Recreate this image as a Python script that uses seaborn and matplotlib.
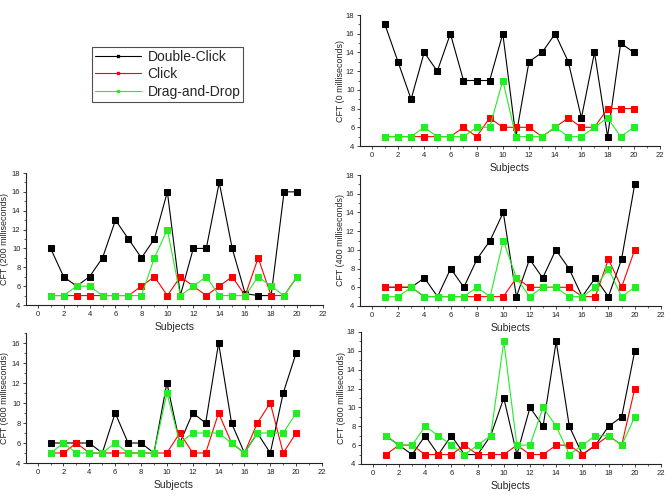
import numpy as np
import pandas as pd
import matplotlib
matplotlib.use("Agg")
import matplotlib.pyplot as plt
import seaborn as sns
from matplotlib.ticker import MultipleLocator
from matplotlib.lines import Line2D

sns.set_theme(style="ticks")
plt.rcParams['font.family'] = ['Liberation Sans', 'DejaVu Sans']

subjects = list(range(1, 21))
series_names = ["Double-Click", "Click", "Drag-and-Drop"]
series_colors = ["#000000", "#ff0000", "#22ee22"]

# CFT 0 ms
dc_0 = [17, 13, 9, 14, 12, 16, 11, 11, 11, 16, 5, 13, 14, 16, 13, 7, 14, 5, 15, 14]
cl_0 = [5, 5, 5, 5, 5, 5, 6, 5, 7, 6, 6, 6, 5, 6, 7, 6, 6, 8, 8, 8]
dd_0 = [5, 5, 5, 6, 5, 5, 5, 6, 6, 11, 5, 5, 5, 6, 5, 5, 6, 7, 5, 6]
# CFT 200 ms
dc_200 = [10, 7, 6, 7, 9, 13, 11, 9, 11, 16, 5, 10, 10, 17, 10, 5.2, 5, 5, 16, 16]
cl_200 = [5, 5, 5, 5, 5, 5, 5, 6, 7, 5, 7, 6, 5, 6, 7, 5, 9, 5, 5, 7]
dd_200 = [5, 5, 6, 6, 5, 5, 5, 5, 9, 12, 5, 6, 7, 5, 5, 5, 7, 6, 5, 7]
# CFT 400 ms
dc_400 = [6, 6, 6, 7, 5, 8, 6, 9, 11, 14, 5, 9, 7, 10, 8, 5, 7, 5, 9, 17]
cl_400 = [6, 6, 6, 5, 5, 5, 5, 5, 5, 5, 7, 6, 6, 6, 6, 5, 5, 9, 6, 10]
dd_400 = [5, 5, 6, 5, 5, 5, 5, 6, 5, 11, 7, 5, 6, 6, 5, 5, 6, 8, 5, 6]
# CFT 600 ms
dc_600 = [6, 6, 6, 6, 5, 9, 6, 6, 5, 12, 6, 9, 8, 16, 8, 5, 7, 5, 11, 15]
cl_600 = [5, 5, 6, 5, 5, 5, 5, 5, 5, 5, 7, 5, 5, 9, 6, 5, 8, 10, 5, 7]
dd_600 = [5, 6, 5, 5, 5, 6, 5, 5, 5, 11, 6, 7, 7, 7, 6, 5, 7, 7, 7, 9]
# CFT 800 ms
dc_800 = [7, 6, 5, 7, 5, 7, 5, 5, 7, 11, 5, 10, 8, 17, 8, 5, 6, 8, 9, 16]
cl_800 = [5, 6, 6, 5, 5, 5, 6, 5, 5, 5, 6, 5, 5, 6, 6, 5, 6, 7, 6, 12]
dd_800 = [7, 6, 6, 8, 7, 6, 5, 6, 7, 17, 6, 6, 10, 8, 5, 6, 7, 7, 6, 9]

W, H = 672, 496
# (ylabel, series, left_px, top_px, right_px, bottom_px, ymax, ylabel_right_px)
panels = [
    ("CFT (0 milliseconds)", [dc_0, cl_0, dd_0], 360, 15, 660, 146, 18, 345),
    ("CFT (200 milliseconds)", [dc_200, cl_200, dd_200], 26, 173, 323, 305, 18, 9.5),
    ("CFT (400 milliseconds)", [dc_400, cl_400, dd_400], 360, 175, 661, 306, 18, 345),
    ("CFT (600 milliseconds)", [dc_600, cl_600, dd_600], 26, 333, 322, 463, 17, 9.5),
    ("CFT (800 milliseconds)", [dc_800, cl_800, dd_800], 361, 332, 661, 464, 18, 346),
]

fig = plt.figure(figsize=(W / 100, H / 100), dpi=100)

for ylabel, series, l, t, r, b, ytop, lab_px in panels:
    ax = fig.add_axes([l / W, 1 - b / H, (r - l) / W, (b - t) / H])
    for name, vals, col in zip(series_names, series, series_colors):
        sns.lineplot(x=subjects, y=vals, color=col, marker="s", markersize=3.8,
                     markeredgecolor=col, linewidth=0.8, ax=ax, legend=False)
    ax.set_xlim(-0.9, 22)
    ax.set_ylim(4, ytop)
    ax.xaxis.set_major_locator(MultipleLocator(2))
    ax.xaxis.set_minor_locator(MultipleLocator(1))
    ax.yaxis.set_major_locator(MultipleLocator(2))
    ax.yaxis.set_minor_locator(MultipleLocator(1))
    ax.tick_params(which="major", direction="out", length=2.5, width=0.6, labelsize=5.5, pad=1.5, colors="#222222")
    ax.tick_params(which="minor", direction="out", length=1.5, width=0.5)
    for s in ["top", "right"]:
        ax.spines[s].set_visible(False)
    for s in ["left", "bottom"]:
        ax.spines[s].set_linewidth(0.8)
        ax.spines[s].set_color("#222222")
    ax.set_xlabel("Subjects", fontsize=7.5, labelpad=3)
    ax.set_ylabel(ylabel, fontsize=6.4)
    ax.yaxis.set_label_coords((lab_px - l) / (r - l), 0.5)

handles = [Line2D([0], [0], color=c, marker="s", markersize=2, linewidth=0.8)
           for c in series_colors]
leg = fig.legend(handles, series_names, loc="upper left", bbox_to_anchor=(92 / W, 1 - 47 / H),
                 fontsize=10, frameon=True, fancybox=False, edgecolor="#222222",
                 handlelength=3.3, handletextpad=0.5, borderpad=0.2, labelspacing=0.25,
                 borderaxespad=0)
leg.get_frame().set_linewidth(0.8)

fig.savefig("out.png", dpi=100)
